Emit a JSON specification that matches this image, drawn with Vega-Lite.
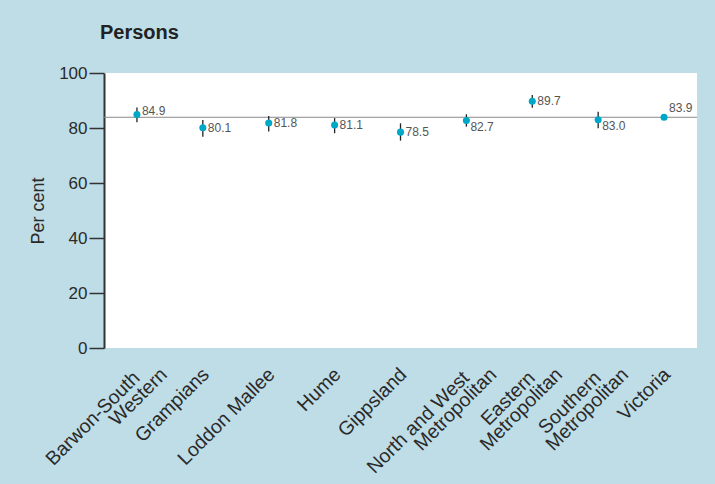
{
  "$schema": "https://vega.github.io/schema/vega-lite/v6.json",
  "autosize": {"type": "none"},
  "width": 593,
  "height": 275,
  "padding": {"left": 104, "top": 73, "right": 18, "bottom": 136},
  "background": "#bedde7",
  "title": {
    "text": "Persons",
    "anchor": "start",
    "frame": "group",
    "font": "Liberation Sans",
    "fontSize": 20,
    "fontWeight": "bold",
    "color": "#222222",
    "offset": 21,
    "dx": -4
  },
  "config": {
    "view": {"fill": "white", "stroke": null},
    "font": "Liberation Sans"
  },
  "data": {
    "values": [
      {"region": "Barwon-South Western", "value": 84.9, "low": 82.1, "high": 87.5, "pos": "above"},
      {"region": "Grampians", "value": 80.1, "low": 76.8, "high": 82.9, "pos": "mid"},
      {"region": "Loddon Mallee", "value": 81.8, "low": 78.7, "high": 84.4, "pos": "mid"},
      {"region": "Hume", "value": 81.1, "low": 78.1, "high": 83.6, "pos": "mid"},
      {"region": "Gippsland", "value": 78.5, "low": 75.4, "high": 81.7, "pos": "mid"},
      {"region": "North and West Metropolitan", "value": 82.7, "low": 80.5, "high": 85.0, "pos": "below"},
      {"region": "Eastern Metropolitan", "value": 89.7, "low": 87.4, "high": 92.0, "pos": "mid"},
      {"region": "Southern Metropolitan", "value": 83.0, "low": 79.9, "high": 85.9, "pos": "below"},
      {"region": "Victoria", "value": 83.9, "low": 83.5, "high": 84.3, "pos": "top"}
    ]
  },
  "encoding": {
    "x": {
      "field": "region",
      "type": "nominal",
      "sort": null,
      "axis": {
        "title": null,
        "domain": false,
        "ticks": false,
        "labelAngle": -45,
        "labelAlign": "right",
        "labelBaseline": "middle",
        "labelFontSize": 19.5,
        "labelLineHeight": 17,
        "labelColor": "#2a2a2a",
        "labelLimit": 0,
        "labelPadding": {
          "condition": {"test": "indexof(datum.value, ' ') > 0 && datum.value != 'Loddon Mallee'", "value": 11},
          "value": 23
        },
        "labelOffset": {
          "condition": {"test": "indexof(datum.value, ' ') > 0 && datum.value != 'Loddon Mallee'", "value": 15},
          "value": 3
        },
        "labelExpr": "datum.value == 'Barwon-South Western' ? ['Barwon-South\u00a0\u00a0\u00a0\u00a0\u2060', 'Western'] : datum.value == 'North and West Metropolitan' ? ['North and West\u00a0\u00a0\u00a0\u00a0\u2060', 'Metropolitan'] : datum.value == 'Eastern Metropolitan' ? ['Eastern\u00a0\u00a0\u00a0\u00a0\u2060', 'Metropolitan'] : datum.value == 'Southern Metropolitan' ? ['Southern\u00a0\u00a0\u00a0\u00a0\u2060', 'Metropolitan'] : datum.value"
      }
    }
  },
  "layer": [
    {
      "mark": {"type": "rule", "color": "#8a8a8a", "strokeWidth": 1},
      "transform": [{"filter": "datum.region == 'Victoria'"}],
      "encoding": {
        "x": null,
        "y": {"field": "value", "type": "quantitative"}
      }
    },
    {
      "mark": {"type": "rule", "color": "#222222", "strokeWidth": 1.3},
      "encoding": {
        "y": {
          "field": "low",
          "type": "quantitative",
          "scale": {"domain": [0, 100]},
          "axis": {
            "title": "Per cent",
            "titleFontSize": 18,
            "titleFontWeight": "normal",
            "titleColor": "#2a2a2a",
            "titlePadding": 11,
            "values": [0, 20, 40, 60, 80, 100],
            "grid": false,
            "domainColor": "#333333",
            "domainWidth": 2,
            "tickColor": "#333333",
            "tickWidth": 1.5,
            "tickSize": 15,
            "labelFontSize": 17,
            "labelColor": "#2a2a2a",
            "labelPadding": 2
          }
        },
        "y2": {"field": "high"}
      }
    },
    {
      "mark": {"type": "point", "filled": true, "size": 50, "color": "#00a8c8", "opacity": 1},
      "encoding": {"y": {"field": "value", "type": "quantitative"}}
    },
    {
      "mark": {"type": "text", "align": "left", "baseline": "middle", "dx": 5, "fontSize": 12, "color": "#555555"},
      "transform": [{"filter": "datum.pos == 'mid'"}],
      "encoding": {
        "y": {"field": "value", "type": "quantitative"},
        "text": {"field": "value", "type": "quantitative", "format": ".1f"}
      }
    },
    {
      "mark": {"type": "text", "align": "left", "baseline": "middle", "dx": 5, "dy": -4, "fontSize": 12, "color": "#555555"},
      "transform": [{"filter": "datum.pos == 'above'"}],
      "encoding": {
        "y": {"field": "value", "type": "quantitative"},
        "text": {"field": "value", "type": "quantitative", "format": ".1f"}
      }
    },
    {
      "mark": {"type": "text", "align": "left", "baseline": "middle", "dx": 5, "dy": -9, "fontSize": 12, "color": "#555555"},
      "transform": [{"filter": "datum.pos == 'top'"}],
      "encoding": {
        "y": {"field": "value", "type": "quantitative"},
        "text": {"field": "value", "type": "quantitative", "format": ".1f"}
      }
    },
    {
      "mark": {"type": "text", "align": "left", "baseline": "middle", "dx": 4, "dy": 6, "fontSize": 12, "color": "#555555"},
      "transform": [{"filter": "datum.pos == 'below'"}],
      "encoding": {
        "y": {"field": "value", "type": "quantitative"},
        "text": {"field": "value", "type": "quantitative", "format": ".1f"}
      }
    }
  ]
}
